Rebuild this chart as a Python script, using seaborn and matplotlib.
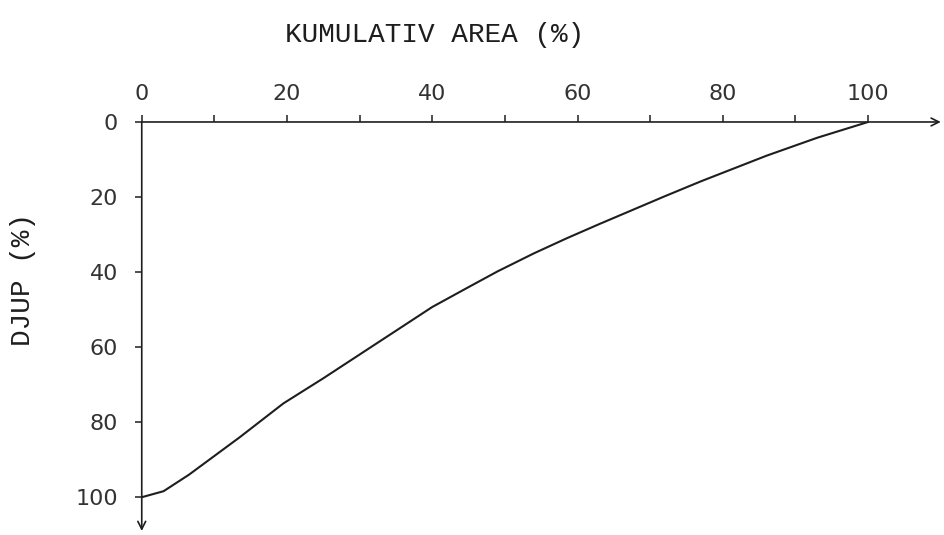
"""
Hypsographic curve: cumulative area (%) against depth (%), axes drawn as arrows.
"""

import matplotlib
matplotlib.use("Agg")
import matplotlib.pyplot as plt
import pandas as pd
import seaborn as sns

# Data
area_pct = [0, 3, 6.5, 13.5, 19.5, 25, 29.5, 35.5, 40, 45, 49, 54, 58.5,
            63, 67.5, 72, 77, 86, 93, 100]
depth_pct = [100, 98.4, 94, 84, 75, 68.3, 62.6, 55, 49.3, 44, 39.8, 35, 31,
             27.2, 23.5, 19.8, 15.8, 9, 4.2, 0]

x_major = [0, 20, 40, 60, 80, 100]
x_minor = [10, 30, 50, 70, 90]
y_major = [0, 20, 40, 60, 80, 100]

X_LABEL = "KUMULATIV AREA (%)"
Y_LABEL = "DJUP (%)"

INK = "#1e1e1e"
TICK_INK = "#333333"


def main():
    sns.set_style("white")
    plt.rcParams["font.family"] = ["DejaVu Sans"]

    df = pd.DataFrame({"area": area_pct, "depth": depth_pct})

    fig = plt.figure(figsize=(9.45, 5.35), dpi=100)
    ax = fig.add_axes([0.150, 0.0075, 0.8455, 0.7645])

    sns.lineplot(data=df, x="area", y="depth", ax=ax, color=INK,
                 linewidth=1.5, estimator=None, sort=False)

    ax.set_xlim(0, 110)
    ax.set_ylim(109, 0)

    for s in ax.spines.values():
        s.set_visible(False)

    # axes as arrows
    arrow = dict(arrowstyle="->", color=INK, lw=1.2, shrinkA=0, shrinkB=0,
                 mutation_scale=14)
    ax.annotate("", xy=(110, 0), xytext=(0, 0), arrowprops=arrow,
                annotation_clip=False)
    ax.annotate("", xy=(0, 109), xytext=(0, 0), arrowprops=arrow,
                annotation_clip=False)

    ax.xaxis.tick_top()
    ax.set_xticks(x_major)
    ax.set_xticks(x_minor, minor=True)
    ax.set_yticks(y_major)
    ax.tick_params(axis="x", which="both", direction="out", length=5,
                   width=1.1, color=INK, pad=8, labelsize=16,
                   labelcolor=TICK_INK, bottom=False, top=True)
    ax.tick_params(axis="y", which="both", direction="out", length=5,
                   width=1.1, color=INK, pad=12, labelsize=16,
                   labelcolor=TICK_INK, left=True)
    ax.set_xlabel("")
    ax.set_ylabel("")

    ax.text(0.367, 1.213, X_LABEL, transform=ax.transAxes, ha="center",
            va="center", fontsize=20, family="Liberation Mono", color=INK)
    ax.text(-0.149, 0.614, Y_LABEL, transform=ax.transAxes, ha="center",
            va="center", rotation=90, fontsize=20, family="Liberation Mono",
            color=INK)

    fig.savefig("out.png", dpi=100, facecolor="white")


if __name__ == "__main__":
    main()
